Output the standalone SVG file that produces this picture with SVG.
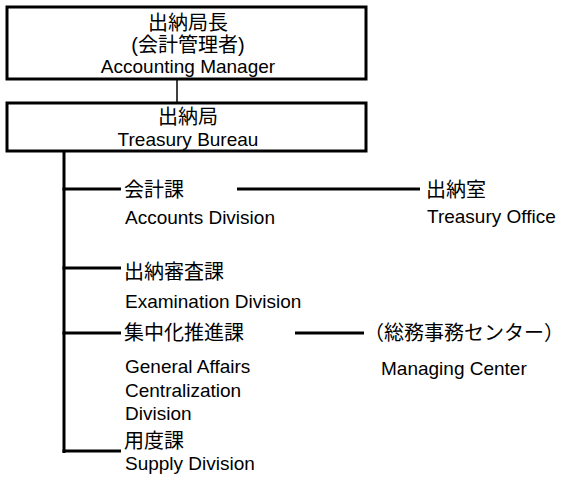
<svg xmlns="http://www.w3.org/2000/svg" width="565" height="479" viewBox="0 0 565 479">
<style>
.box{fill:#fff;stroke:#000;stroke-width:3}
.ln{stroke:#000;stroke-width:3;fill:none}
.thin{stroke:#000;stroke-width:1.5;fill:none}
text{font-family:"Liberation Sans","Noto Sans CJK JP",sans-serif;font-size:19px;fill:#000}
.j{font-size:20px}
.c{text-anchor:middle}
</style>
<rect width="565" height="479" fill="#fff"/>
<g id="connectors">
<line class="thin" x1="177" y1="79" x2="177" y2="103"/>
<line class="ln" x1="64" y1="152" x2="64" y2="453"/>
<line class="ln" x1="62.5" y1="189" x2="121" y2="189"/>
<line class="ln" x1="62.5" y1="268" x2="121" y2="268"/>
<line class="ln" x1="62.5" y1="333" x2="121" y2="333"/>
<line class="ln" x1="62.5" y1="451" x2="121" y2="451"/>
<line class="ln" x1="237" y1="189" x2="420" y2="189"/>
<line class="ln" x1="295" y1="333" x2="364" y2="333"/>
</g>
<g id="manager">
<rect class="box" x="7" y="7" width="359" height="72"/>
<text class="c j" x="188" y="30">出納局長</text>
<text class="c j" x="188" y="52">(会計管理者)</text>
<text class="c" x="188" y="73">Accounting Manager</text>
</g>
<g id="bureau">
<rect class="box" x="7" y="103" width="359" height="48"/>
<text class="c j" x="188" y="124">出納局</text>
<text class="c" x="188" y="146">Treasury Bureau</text>
</g>
<g id="accounts">
<text class="j" x="124" y="197">会計課</text>
<text x="125" y="224">Accounts Division</text>
</g>
<g id="treasury-office">
<text class="j" x="426" y="197">出納室</text>
<text x="427" y="223">Treasury Office</text>
</g>
<g id="examination">
<text class="j" x="124" y="279">出納審査課</text>
<text x="125" y="308">Examination Division</text>
</g>
<g id="centralization">
<text class="j" x="124" y="340">集中化推進課</text>
<text x="125" y="373">General Affairs</text>
<text x="125" y="397">Centralization</text>
<text x="125" y="420">Division</text>
</g>
<g id="managing-center">
<text class="j" x="364" y="340">（総務事務センター）</text>
<text x="381" y="375">Managing Center</text>
</g>
<g id="supply">
<text class="j" x="124" y="448">用度課</text>
<text x="125" y="470">Supply Division</text>
</g>
</svg>
